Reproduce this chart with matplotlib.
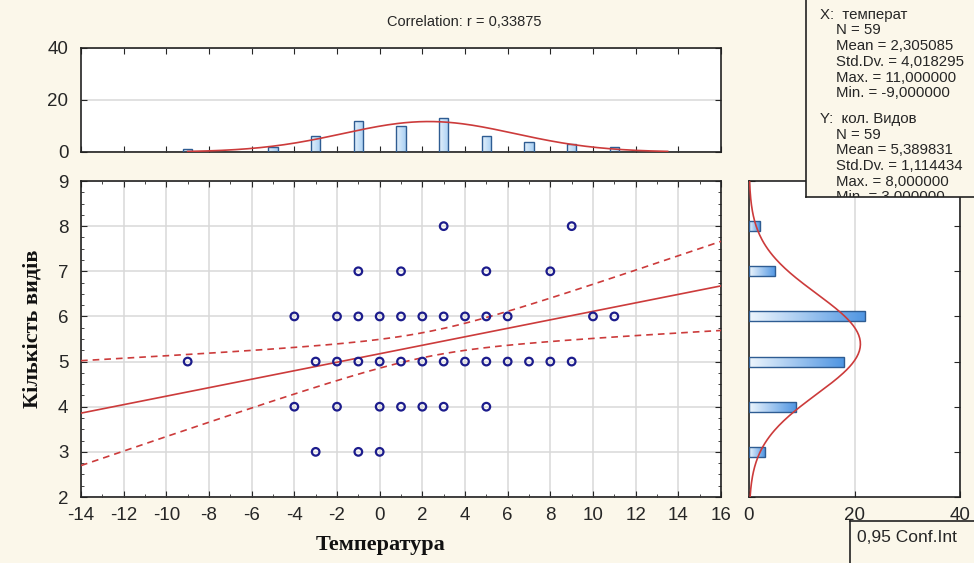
import numpy as np
import matplotlib
matplotlib.use("Agg")
import matplotlib.pyplot as plt
from matplotlib.colors import LinearSegmentedColormap
from matplotlib.ticker import MultipleLocator

# scatter points (unique positions visible on the chart)
temp = [3, 9,
        -1, 1, 5, 8,
        -4, -2, -1, 0, 1, 2, 3, 4, 5, 6, 10, 11,
        -9, -3, -2, -1, 0, 1, 2, 3, 4, 5, 6, 7, 8, 9,
        -4, -2, 0, 1, 2, 3, 5,
        -3, -1, 0]
species = [8, 8,
           7, 7, 7, 7,
           6, 6, 6, 6, 6, 6, 6, 6, 6, 6, 6, 6,
           5, 5, 5, 5, 5, 5, 5, 5, 5, 5, 5, 5, 5, 5,
           4, 4, 4, 4, 4, 4, 4,
           3, 3, 3]

# marginal histograms
x_bins = [-9, -5, -3, -1, 1, 3, 5, 7, 9, 11]
x_counts = [1, 2, 6, 12, 10, 13, 6, 4, 3, 2]
y_bins = [3, 4, 5, 6, 7, 8]
y_counts = [3, 9, 18, 22, 5, 2]

# summary statistics
n = 59
mean_x, sd_x = 2.305085, 4.018295
mean_y, sd_y = 5.389831, 1.114434
r = 0.33875
t_crit = 2.0025  # t(0.975, 57)

stats_lines = ["X:  температ", "N = 59", "Mean = 2,305085", "Std.Dv. = 4,018295",
               "Max. = 11,000000", "Min. = -9,000000",
               "Y:  кол. Видов", "N = 59", "Mean = 5,389831", "Std.Dv. = 1,114434",
               "Max. = 8,000000", "Min. = 3,000000"]

BG = '#FBF7EA'
RED = '#CC3B3B'
EDGE = '#2E5C92'
TXT = '#262626'
W, H = 974, 563

plt.rcParams['font.family'] = ['Liberation Sans', 'DejaVu Sans']
plt.rcParams['axes.unicode_minus'] = False

fig = plt.figure(figsize=(W / 100, H / 100), dpi=100, facecolor=BG)


def rect(l, t, r_, b):
    return [l / W, 1 - b / H, (r_ - l) / W, (b - t) / H]


ax = fig.add_axes(rect(81, 181, 721, 497))
ax_top = fig.add_axes(rect(81, 48, 721, 152))
ax_right = fig.add_axes(rect(749, 181, 960, 497))
ax_right.set_zorder(2)

for a in (ax, ax_top, ax_right):
    a.set_facecolor('white')
    for s in a.spines.values():
        s.set_color('#222222')
        s.set_linewidth(1.2)
    a.tick_params(direction='in', which='both', top=True, right=True,
                  colors=TXT, labelsize=13.5, length=4)
    a.tick_params(which='minor', length=2.5)
    a.tick_params(axis='y', pad=9)
    a.tick_params(axis='x', pad=7)


def gradient_bars(a, bars, c0, c1):
    cmap = LinearSegmentedColormap.from_list('g', [c0, c1])
    grad = np.linspace(0, 1, 128).reshape(1, -1)
    for b in bars:
        x0, y0 = b.get_x(), b.get_y()
        im = a.imshow(grad, extent=[x0, x0 + b.get_width(), y0, y0 + b.get_height()],
                      aspect='auto', cmap=cmap, zorder=2, interpolation='bilinear')
        im.set_clip_path(b)
        b.set_facecolor('none')
        b.set_zorder(3)


# --- main scatter ---
ax.grid(True, which='major', color='#D9D9D9', linewidth=1.1, zorder=0)
ax.set_axisbelow(True)
slope = r * sd_y / sd_x
icpt = mean_y - slope * mean_x
xs = np.linspace(-14, 16, 200)
fit = icpt + slope * xs
s_e = sd_y * np.sqrt(1 - r ** 2) * np.sqrt((n - 1) / (n - 2))
se = s_e * np.sqrt(1 / n + (xs - mean_x) ** 2 / ((n - 1) * sd_x ** 2))
ax.plot(xs, fit, color=RED, lw=1.2, zorder=3)
ax.plot(xs, fit + t_crit * se, color=RED, lw=1.2, ls=(0, (4, 3)), zorder=3)
ax.plot(xs, fit - t_crit * se, color=RED, lw=1.2, ls=(0, (4, 3)), zorder=3)
ax.scatter(temp, species, s=30, facecolors='none', edgecolors='#1C1C8C',
           linewidths=1.6, zorder=4)
ax.set_xlim(-14, 16)
ax.set_ylim(2, 9)
ax.xaxis.set_major_locator(MultipleLocator(2))
ax.xaxis.set_minor_locator(MultipleLocator(1))
ax.yaxis.set_major_locator(MultipleLocator(1))
ax.yaxis.set_minor_locator(MultipleLocator(0.25))
fig.text(381 / W, 1 - 545 / H, 'Температура', family='Liberation Serif',
         fontweight='bold', fontsize=16, ha='center', va='center', color='#111111')
fig.text(33 / W, 1 - 329 / H, 'Кількість видів', family='Liberation Serif',
         fontweight='bold', fontsize=16, ha='center', va='center', rotation=90,
         color='#111111')

# --- top histogram ---
bars = ax_top.bar(x_bins, x_counts, width=0.45, edgecolor=EDGE, linewidth=1.0)
gradient_bars(ax_top, bars, '#E4F1FC', '#A9D0F3')
gx = np.linspace(-9, 13.5, 200)
ax_top.plot(gx, n * 2 * np.exp(-0.5 * ((gx - mean_x) / sd_x) ** 2) / (sd_x * np.sqrt(2 * np.pi)),
            color=RED, lw=1.2, zorder=4)
ax_top.set_xlim(-14, 16)
ax_top.set_ylim(0, 40)
ax_top.xaxis.set_major_locator(MultipleLocator(2))
ax_top.set_yticks([0, 20, 40])
ax_top.tick_params(labelbottom=False)
ax_top.grid(True, axis='y', color='#D9D9D9', linewidth=1.1, zorder=0)
ax_top.set_axisbelow(True)
fig.text(387 / W, 1 - 22 / H, 'Correlation: r = 0,33875', fontsize=10.5,
         color=TXT, ha='left', va='center')

# --- right histogram ---
hbars = ax_right.barh(y_bins, y_counts, height=0.22, edgecolor=EDGE, linewidth=1.0)
gradient_bars(ax_right, hbars, '#EEF6FD', '#4F95E2')
gy = np.linspace(2, 9, 200)
ax_right.plot(n * np.exp(-0.5 * ((gy - mean_y) / sd_y) ** 2) / (sd_y * np.sqrt(2 * np.pi)), gy,
              color=RED, lw=1.2, zorder=4)
ax_right.set_xlim(0, 40)
ax_right.set_ylim(2, 9)
ax_right.set_xticks([0, 20, 40])
ax_right.yaxis.set_major_locator(MultipleLocator(1))
ax_right.tick_params(labelleft=False)
ax_right.grid(True, axis='x', color='#D9D9D9', linewidth=1.1, zorder=0)
ax_right.set_axisbelow(True)

# --- statistics box ---
box = fig.add_axes(rect(806, -5, 990, 197))
box.set_zorder(3)
box.set_facecolor(BG)
box.set_xticks([])
box.set_yticks([])
for s in box.spines.values():
    s.set_color('#222222')
    s.set_linewidth(1.2)
line_y = [15, 30.5, 46, 62, 77.5, 93, 119, 135, 150.5, 166, 181.5, 197]
for txt, py in zip(stats_lines, line_y):
    px = 820 if txt[:2] in ('X:', 'Y:') else 836
    box.text(px / W, 1 - py / H, txt, transform=fig.transFigure, fontsize=10.8,
             color=TXT, va='center', ha='left', clip_on=True)

# --- confidence interval box ---
cbox = fig.add_axes(rect(850, 521, 990, 580))
cbox.set_zorder(1)
cbox.set_facecolor(BG)
cbox.set_xticks([])
cbox.set_yticks([])
for s in cbox.spines.values():
    s.set_color('#222222')
    s.set_linewidth(1.2)
cbox.text(857 / W, 1 - 537 / H, '0,95 Conf.Int', transform=fig.transFigure,
          fontsize=12.5, color=TXT, va='center', ha='left')

fig.savefig('out.png', dpi=100, facecolor=BG)
